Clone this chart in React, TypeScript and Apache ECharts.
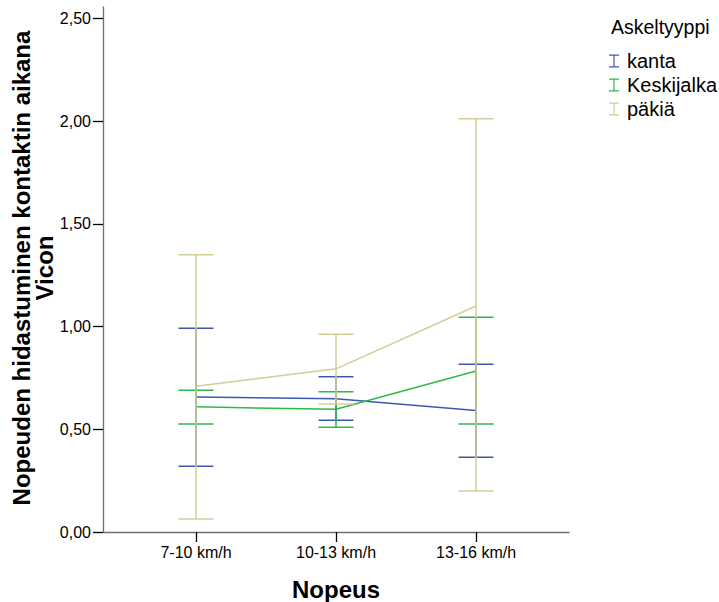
import React, { useEffect, useRef } from "react";
import * as echarts from "echarts";

const categories = ["7-10 km/h", "10-13 km/h", "13-16 km/h"];
const groups = ["kanta", "Keskijalka", "päkiä"];
const colors = ["#3E58AC", "#2EB848", "#D3CE97"];

const kantaMean = [0.657, 0.649, 0.591];
const kantaLow = [0.32, 0.544, 0.364];
const kantaHigh = [0.992, 0.755, 0.816];

const keskiMean = [0.609, 0.597, 0.784];
const keskiLow = [0.526, 0.51, 0.526];
const keskiHigh = [0.69, 0.683, 1.045];

const pakiaMean = [0.709, 0.794, 1.1];
const pakiaLow = [0.063, 0.623, 0.2];
const pakiaHigh = [1.349, 0.962, 2.011];

const yTicks = [0, 0.5, 1, 1.5, 2, 2.5];
const xTitle = "Nopeus";
const yTitleLines = ["Nopeuden hidastuminen kontaktin aikana", "Vicon"];
const legendTitle = "Askeltyyppi";

const FONT = '"Liberation Sans", Arial, Helvetica, sans-serif';

export default function App() {
  const ref = useRef<HTMLDivElement>(null);

  useEffect(() => {
    document.body.style.margin = "0";
    if (!ref.current) return;
    const chart = echarts.init(ref.current, null, { renderer: "svg" });

    const means = [kantaMean, keskiMean, pakiaMean];
    const lows = [kantaLow, keskiLow, pakiaLow];
    const highs = [kantaHigh, keskiHigh, pakiaHigh];
    const catPos = categories.map((_, i) => i + 1);

    const lineSeries = groups.map((g, gi) => ({
      type: "line",
      name: g,
      data: catPos.map((x, i) => [x, means[gi][i]]),
      showSymbol: false,
      symbol: "none",
      lineStyle: { color: colors[gi], width: 1.5 },
      itemStyle: { color: colors[gi] },
      z: 2,
    }));

    const errSeries = groups.map((g, gi) => ({
      type: "custom",
      name: g,
      data: catPos.map((x, i) => [x, lows[gi][i], highs[gi][i]]),
      itemStyle: { color: colors[gi] },
      z: 3,
      renderItem: (params: any, api: any) => {
        const x = api.value(0);
        const lo = api.coord([x, api.value(1)]);
        const hi = api.coord([x, api.value(2)]);
        const hw = 17.5;
        const st = { stroke: colors[gi], lineWidth: 1.5 };
        return {
          type: "group",
          children: [
            { type: "line", shape: { x1: lo[0], y1: lo[1], x2: hi[0], y2: hi[1] }, style: st },
            { type: "line", shape: { x1: hi[0] - hw, y1: hi[1], x2: hi[0] + hw, y2: hi[1] }, style: st },
            { type: "line", shape: { x1: lo[0] - hw, y1: lo[1], x2: lo[0] + hw, y2: lo[1] }, style: st },
          ],
        };
      },
    }));

    chart.setOption({
      animation: false,
      backgroundColor: "#ffffff",
      textStyle: { fontFamily: FONT },
      title: {
        text: legendTitle,
        left: 611,
        top: 17,
        padding: 0,
        textStyle: { fontSize: 19.5, fontWeight: "normal", color: "#000", fontFamily: FONT },
      },
      legend: {
        orient: "vertical",
        left: 609,
        top: 51,
        padding: 0,
        itemWidth: 10,
        itemHeight: 13,
        itemGap: 4,
        icon: "path://M0,0H10V1.3H5.6V11.7H10V13H0V11.7H4.4V1.3H0Z",
        textStyle: { fontSize: 20, color: "#000", fontFamily: FONT, padding: [0, 0, 0, 3] },
        data: groups,
        selectedMode: false,
      },
      grid: { left: 103, right: 150, top: 7, bottom: 70, containLabel: false },
      xAxis: {
        type: "value",
        min: 0.336,
        max: 3.664,
        splitLine: { show: false },
        axisLine: { show: true, lineStyle: { color: "#707070", width: 1.3 } },
        axisTick: { show: true, length: 10, customValues: catPos, lineStyle: { color: "#000", width: 1.3 } },
        axisLabel: {
          customValues: catPos,
          margin: 12,
          fontSize: 16,
          color: "#000",
          fontFamily: FONT,
          formatter: (v: number) => categories[Math.round(v) - 1] ?? "",
        },
      },
      yAxis: {
        type: "value",
        min: 0,
        max: 2.555,
        splitLine: { show: false },
        axisLine: { show: true, lineStyle: { color: "#707070", width: 1.3 } },
        axisTick: { show: true, length: 10, customValues: yTicks, lineStyle: { color: "#000", width: 1.3 } },
        axisLabel: {
          customValues: yTicks,
          margin: 12,
          fontSize: 16,
          color: "#000",
          fontFamily: FONT,
          formatter: (v: number) => v.toFixed(2).replace(".", ","),
        },
      },
      graphic: [
        {
          type: "text",
          x: 33,
          y: 268,
          rotation: Math.PI / 2,
          style: {
            text: yTitleLines.join("\n"),
            fontSize: 24,
            fontWeight: "bold",
            fontFamily: FONT,
            fill: "#000",
            align: "center",
            verticalAlign: "middle",
            lineHeight: 23,
          },
        },
        {
          type: "text",
          x: 336,
          y: 589,
          style: {
            text: xTitle,
            fontSize: 24,
            fontWeight: "bold",
            fontFamily: FONT,
            fill: "#000",
            align: "center",
            verticalAlign: "middle",
          },
        },
      ],
      series: [...errSeries, ...lineSeries],
    });

    return () => chart.dispose();
  }, []);

  return <div ref={ref} style={{ width: 719, height: 602 }} />;
}
